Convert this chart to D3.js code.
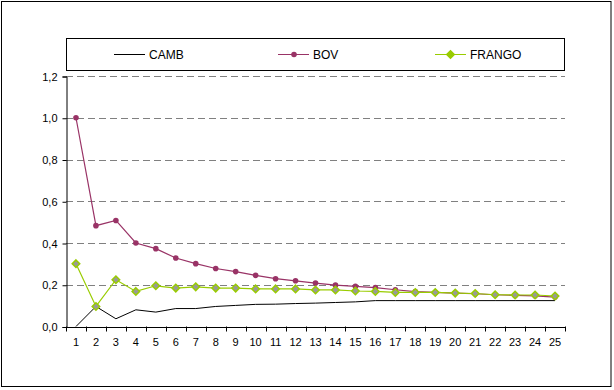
<!DOCTYPE html>
<html lang="pt">
	<head>
		<meta charset="utf-8">
		<title>CAMB BOV FRANGO</title>
		<script src="https://d3js.org/d3.v7.min.js"></script>
		<style type="text/css">
		body { margin: 0; background: #fff; }
		text {
			font-family: "Liberation Sans", Arial, sans-serif;
			font-size: 11px;
			fill: #000;
		}
		</style>
	</head>
	<body>
		<div id="chart"></div>
		<script type="text/javascript">
		// data
		var periods = d3.range(1, 26);
		var camb = [0, 0.096, 0.037, 0.08, 0.069, 0.086, 0.086, 0.096, 0.101, 0.106, 0.107, 0.11, 0.112, 0.115, 0.118,
			0.124, 0.124, 0.124, 0.124, 0.124, 0.124, 0.124, 0.124, 0.124, 0.124];
		var bov = [1.0, 0.483, 0.508, 0.40, 0.373, 0.328, 0.301, 0.278, 0.263, 0.245, 0.229, 0.219, 0.208, 0.198, 0.192,
			0.186, 0.176, 0.167, 0.163, 0.160, 0.157, 0.152, 0.149, 0.147, 0.141];
		var frango = [0.301, 0.096, 0.224, 0.168, 0.195, 0.184, 0.19, 0.184, 0.184, 0.18, 0.18, 0.18, 0.175, 0.175, 0.17,
			0.168, 0.163, 0.163, 0.163, 0.16, 0.158, 0.152, 0.151, 0.151, 0.146];
		var yTicks = [0, 0.2, 0.4, 0.6, 0.8, 1.0, 1.2];

		var w = 614;
		var h = 390;
		var plotLeft = 66, plotRight = 565, plotTop = 76, plotBottom = 326.5;

		var svg = d3.select("#chart")
		.append("svg")
		.attr("width", w)
		.attr("height", h);

		// outer frame
		svg.append("rect")
		.attr("x", 1.5).attr("y", 1.5)
		.attr("width", 609.5).attr("height", 385)
		.attr("fill", "none")
		.attr("stroke", "#000")
		.attr("stroke-width", 1);

		var xScale = d3.scaleBand()
		.domain(periods)
		.range([plotLeft, plotRight]);

		var yScale = d3.scaleLinear()
		.domain([0, 1.2])
		.range([plotBottom, plotTop]);

		var fmt = function (d) { return d3.format(".1f")(d).replace(".", ","); };

		// gridlines
		svg.append("g")
		.selectAll("line")
		.data(yTicks.filter(d => d > 0))
		.enter()
		.append("line")
		.attr("x1", plotLeft)
		.attr("x2", plotRight)
		.attr("y1", d => Math.round(yScale(d)) + 0.5)
		.attr("y2", d => Math.round(yScale(d)) + 0.5)
		.attr("stroke", "#808080")
		.attr("stroke-dasharray", "7,4");

		// y axis
		var yAxis = d3.axisLeft(yScale)
		.tickValues(yTicks)
		.tickFormat(fmt)
		.tickSize(4)
		.tickPadding(5);

		var gy = svg.append("g")
		.attr("transform", "translate(" + (plotLeft + 0.5) + ",0.5)")
		.call(yAxis);
		gy.select(".domain").attr("stroke", "#000");
		gy.selectAll("text").style("font-size", "11px").attr("fill", "#000");

		// x axis: ticks between categories
		var xAxis = d3.axisBottom(xScale)
		.tickSize(0)
		.tickPadding(11);

		var gx = svg.append("g")
		.attr("transform", "translate(0," + (plotBottom + 0.5) + ")")
		.call(xAxis);
		gx.select(".domain").attr("stroke", "#000");
		gx.selectAll("text").style("font-size", "11px").attr("fill", "#000");

		svg.append("g")
		.selectAll("line")
		.data(periods.concat([26]))
		.enter()
		.append("line")
		.attr("x1", d => Math.round(plotLeft + (d - 1) * xScale.step()) + 0.5)
		.attr("x2", d => Math.round(plotLeft + (d - 1) * xScale.step()) + 0.5)
		.attr("y1", plotBottom)
		.attr("y2", plotBottom + 5)
		.attr("stroke", "#000");

		var cx = (d, i) => xScale(periods[i]) + xScale.bandwidth() / 2;
		var line = d3.line()
		.x(cx)
		.y(d => yScale(d));

		// CAMB
		svg.append("path")
		.datum(camb)
		.attr("d", line)
		.attr("fill", "none")
		.attr("stroke", "#000")
		.attr("stroke-width", 1);

		// BOV
		svg.append("path")
		.datum(bov)
		.attr("d", line)
		.attr("fill", "none")
		.attr("stroke", "#993366")
		.attr("stroke-width", 1.2);

		svg.append("g")
		.selectAll("circle")
		.data(bov)
		.enter()
		.append("circle")
		.attr("cx", cx)
		.attr("cy", d => yScale(d))
		.attr("r", 2.8)
		.attr("fill", "#993366");

		// FRANGO
		svg.append("path")
		.datum(frango)
		.attr("d", line)
		.attr("fill", "none")
		.attr("stroke", "#99CC00")
		.attr("stroke-width", 1.2);

		var diamond = d3.symbol().type(d3.symbolDiamond2).size(36);

		svg.append("g")
		.selectAll("path")
		.data(frango)
		.enter()
		.append("path")
		.attr("d", diamond)
		.attr("transform", (d, i) => "translate(" + cx(d, i) + "," + yScale(d) + ")")
		.attr("fill", "#999999")
		.attr("stroke", "#99CC00")
		.attr("stroke-width", 1.5);

		// legend
		var legend = svg.append("g");
		legend.append("rect")
		.attr("x", 66.5).attr("y", 38.5)
		.attr("width", 498).attr("height", 32)
		.attr("fill", "#fff")
		.attr("stroke", "#000");

		var items = [
			{ name: "CAMB", color: "#000", x: 114 },
			{ name: "BOV", color: "#993366", x: 278 },
			{ name: "FRANGO", color: "#99CC00", x: 435 }
		];
		var ly = 54.5;

		items.forEach(function (it) {
			legend.append("line")
			.attr("x1", it.x).attr("x2", it.x + 31)
			.attr("y1", ly).attr("y2", ly)
			.attr("stroke", it.color);
			legend.append("text")
			.attr("x", it.x + 35)
			.attr("y", ly + 4)
			.style("font-size", "12px")
			.text(it.name);
		});
		legend.append("circle")
		.attr("cx", 294).attr("cy", ly)
		.attr("r", 2.8)
		.attr("fill", "#993366");
		legend.append("path")
		.attr("d", diamond)
		.attr("transform", "translate(450.5," + ly + ")")
		.attr("fill", "#99CC00")
		.attr("stroke", "#99CC00")
		.attr("stroke-width", 1.5);
		</script>
	</body>
</html>
